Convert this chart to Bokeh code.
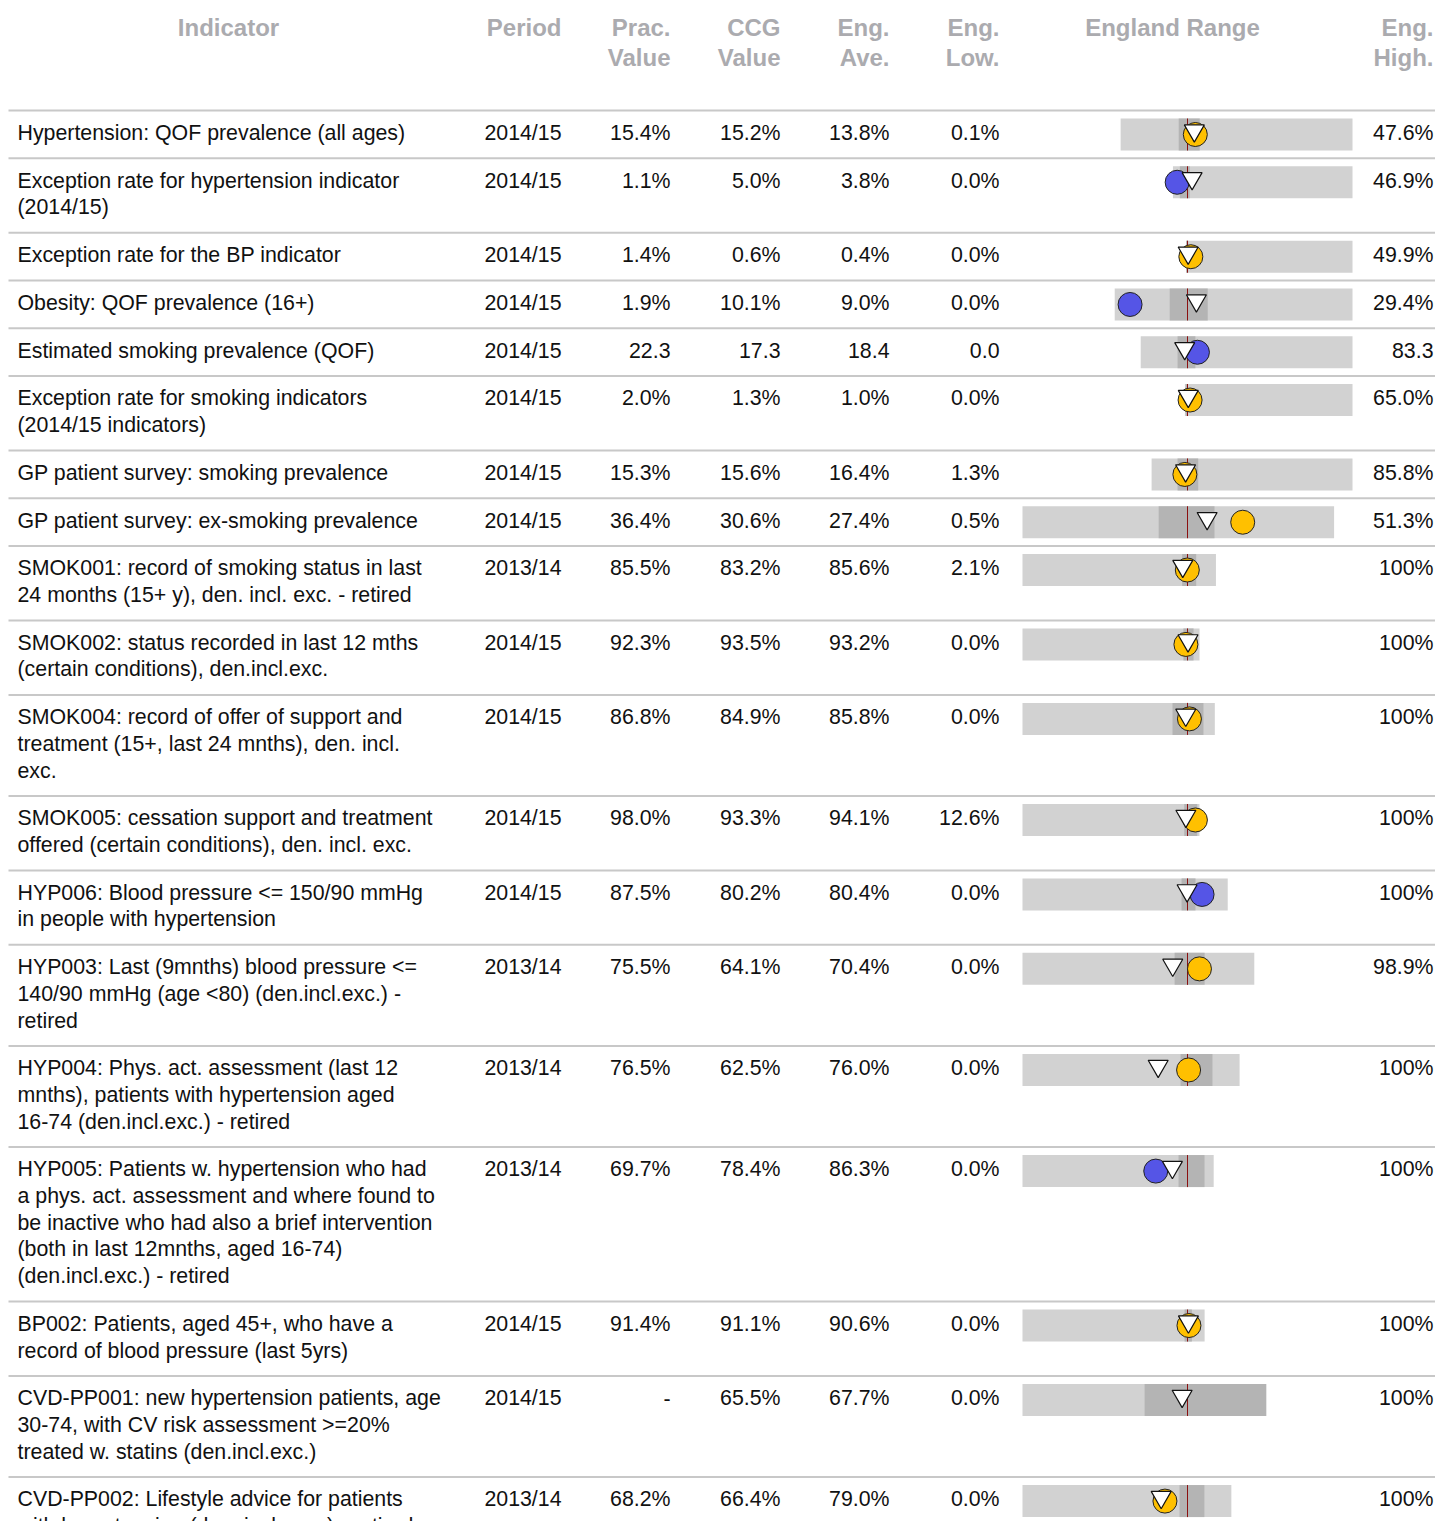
from bokeh.plotting import figure
from bokeh.models import Range1d
from bokeh.embed import file_html
from bokeh.resources import INLINE
from bokeh.core.properties import value

# ---------------- data ----------------
indicators = [
    "Hypertension: QOF prevalence (all ages)",
    "Exception rate for hypertension indicator\n(2014/15)",
    "Exception rate for the BP indicator",
    "Obesity: QOF prevalence (16+)",
    "Estimated smoking prevalence (QOF)",
    "Exception rate for smoking indicators\n(2014/15 indicators)",
    "GP patient survey: smoking prevalence",
    "GP patient survey: ex-smoking prevalence",
    "SMOK001: record of smoking status in last\n24 months (15+ y),  den. incl. exc. - retired",
    "SMOK002: status recorded in last 12 mths\n(certain conditions), den.incl.exc.",
    "SMOK004: record of offer of support and\ntreatment (15+, last 24 mnths),  den. incl.\nexc.",
    "SMOK005: cessation support and treatment\noffered (certain conditions), den. incl. exc.",
    "HYP006: Blood pressure <= 150/90 mmHg\nin people with hypertension",
    "HYP003: Last (9mnths) blood pressure <=\n140/90 mmHg (age <80) (den.incl.exc.) -\nretired",
    "HYP004: Phys. act. assessment (last 12\nmnths), patients with hypertension aged\n16-74 (den.incl.exc.) - retired",
    "HYP005: Patients w. hypertension who had\na phys. act. assessment and where found to\nbe inactive who had also a brief intervention\n(both in last 12mnths, aged 16-74)\n(den.incl.exc.) - retired",
    "BP002: Patients, aged 45+, who have a\nrecord of blood pressure (last 5yrs)",
    "CVD-PP001: new hypertension patients, age\n30-74, with CV risk assessment >=20%\ntreated w. statins (den.incl.exc.)",
    "CVD-PP002: Lifestyle advice for patients\nwith hypertension (den. incl. exc.) - retired",
]
periods = ["2014/15"] * 8 + ["2013/14", "2014/15", "2014/15", "2014/15", "2014/15",
                             "2013/14", "2013/14", "2013/14", "2014/15", "2014/15", "2013/14"]
units = ["%", "%", "%", "%", "", "%", "%", "%", "%", "%", "%", "%", "%", "%", "%", "%", "%", "%", "%"]
prac_value = [15.4, 1.1, 1.4, 1.9, 22.3, 2.0, 15.3, 36.4, 85.5, 92.3, 86.8, 98.0, 87.5, 75.5, 76.5, 69.7, 91.4, None, 68.2]
ccg_value = [15.2, 5.0, 0.6, 10.1, 17.3, 1.3, 15.6, 30.6, 83.2, 93.5, 84.9, 93.3, 80.2, 64.1, 62.5, 78.4, 91.1, 65.5, 66.4]
eng_avg = [13.8, 3.8, 0.4, 9.0, 18.4, 1.0, 16.4, 27.4, 85.6, 93.2, 85.8, 94.1, 80.4, 70.4, 76.0, 86.3, 90.6, 67.7, 79.0]
eng_low = [0.1, 0.0, 0.0, 0.0, 0.0, 0.0, 1.3, 0.5, 2.1, 0.0, 0.0, 12.6, 0.0, 0.0, 0.0, 0.0, 0.0, 0.0, 0.0]
eng_high = [47.6, 46.9, 49.9, 29.4, 83.3, 65.0, 85.8, 51.3, 100, 100, 100, 100, 100, 98.9, 100, 100, 100, 100, 100]
eng_q25 = [12.0, 1.8, 0.0, 6.8, 14.5, 0.3, 12.2, 22.7, 82.9, 90.9, 78.0, 92.5, 77.5, 64.9, 72.8, 81.6, 89.0, 50.1, 75.2]
eng_q75 = [16.3, 4.4, 0.6, 11.5, 21.5, 1.2, 20.9, 31.8, 90.0, 96.6, 94.1, 98.9, 84.3, 77.7, 87.5, 95.2, 93.0, 100, 87.1]
prac_compare = ["similar", "lower", "similar", "lower", "higher", "similar", "similar", "similar",
                "similar", "similar", "similar", "similar", "higher", "similar", "similar", "lower",
                "similar", "none", "similar"]

header_cols = [
    ("Indicator", "", "center", 228),
    ("Period", "", "right", 561),
    ("Prac.", "Value", "right", 670),
    ("CCG", "Value", "right", 780),
    ("Eng.", "Ave.", "right", 889),
    ("Eng.", "Low.", "right", 999),
    ("England Range", "", "center", 1172),
    ("Eng.", "High.", "right", 1433),
]

# ---------------- layout / style ----------------
W, H = 1435, 1521
FONT = value("Liberation Sans")
BODY_SIZE = "21.33px"
HEAD_SIZE = "24px"
HEAD_COLOR = "#ABABAF"
TEXT_COLOR = "#111111"
LINE_H = 26.67
ROW_PAD = 21.1
HEADER_BOTTOM = 110
BODY_BASE = 22.3
HEAD_BASE = (26.6, 56.6)
SPINE_C = 1187
SPINE_HALF = 165
COL_X = {"period": 561, "prac": 670, "ccg": 780, "avg": 889, "low": 999, "high": 1433}
SIG_COLORS = {"similar": "#FFC000", "lower": "#5555E6", "higher": "#5555E6"}

p = figure(width=W, height=H, output_backend="svg", toolbar_location=None,
           x_range=Range1d(0, W), y_range=Range1d(H, 0),
           x_axis_type=None, y_axis_type=None, min_border=0)
p.grid.visible = False
p.outline_line_color = None
p.background_fill_color = "white"
p.border_fill_color = "white"

# header
for top, bottom, align, x in header_cols:
    p.text(x=[x], y=[HEAD_BASE[0]], text=[top], text_font=FONT, text_font_size=HEAD_SIZE,
           text_font_style="bold", text_color=HEAD_COLOR, text_align=align,
           text_baseline="alphabetic")
    if bottom:
        p.text(x=[x], y=[HEAD_BASE[1]], text=[bottom], text_font=FONT, text_font_size=HEAD_SIZE,
               text_font_style="bold", text_color=HEAD_COLOR, text_align=align,
               text_baseline="alphabetic")

# rows geometry
nlines = [len(s.split("\n")) for s in indicators]
tops = [HEADER_BOTTOM]
for n in nlines:
    tops.append(tops[-1] + ROW_PAD + LINE_H * n)
row_tops = tops[:-1]

# separator lines
p.segment(x0=[8] * len(tops), x1=[W] * len(tops), y0=tops, y1=tops,
          line_color="#C8C8C8", line_width=2)


def fmt(v, unit):
    if v is None:
        return "-"
    if v == 100:
        return "100" + unit
    return f"{v:.1f}{unit}"


# text columns
tx, ty, tt = [], [], []
for i, name in enumerate(indicators):
    for j, line in enumerate(name.split("\n")):
        tx.append(17)
        ty.append(row_tops[i] + BODY_BASE + j * LINE_H)
        tt.append(line)
p.text(x=tx, y=ty, text=tt, text_font=FONT, text_font_size=BODY_SIZE,
       text_color=TEXT_COLOR, text_align="left", text_baseline="alphabetic")

num_cols = [("period", periods), ("prac", prac_value), ("ccg", ccg_value),
            ("avg", eng_avg), ("low", eng_low), ("high", eng_high)]
for key, vals in num_cols:
    xs, ys, ts = [], [], []
    for i, v in enumerate(vals):
        xs.append(COL_X[key])
        ys.append(row_tops[i] + BODY_BASE)
        ts.append(v if key == "period" else fmt(v, units[i]))
    p.text(x=xs, y=ys, text=ts, text_font=FONT, text_font_size=BODY_SIZE,
           text_color=TEXT_COLOR, text_align="right", text_baseline="alphabetic")


# spine chart
def spos(i, v):
    s = max(eng_avg[i] - eng_low[i], eng_high[i] - eng_avg[i])
    return SPINE_C + (v - eng_avg[i]) / s * SPINE_HALF


n = len(indicators)
bar_top = [t + 8 for t in row_tops]
bar_bot = [t + 40 for t in row_tops]
bar_mid = [t + 24 for t in row_tops]

p.quad(left=[spos(i, eng_low[i]) for i in range(n)],
       right=[spos(i, eng_high[i]) for i in range(n)],
       top=bar_top, bottom=bar_bot, fill_color="#D2D2D2", line_color=None)
p.quad(left=[spos(i, eng_q25[i]) for i in range(n)],
       right=[spos(i, eng_q75[i]) for i in range(n)],
       top=bar_top, bottom=bar_bot, fill_color="#B4B4B4", line_color=None)
p.segment(x0=[spos(i, eng_avg[i]) for i in range(n)],
          x1=[spos(i, eng_avg[i]) for i in range(n)],
          y0=bar_top, y1=bar_bot, line_color="#8B1010", line_width=1)

cx, cy, cc = [], [], []
for i, v in enumerate(prac_value):
    if v is None:
        continue
    cx.append(spos(i, v))
    cy.append(bar_mid[i])
    cc.append(SIG_COLORS[prac_compare[i]])
p.scatter(x=cx, y=cy, marker="circle", size=24, fill_color=cc,
          line_color="#222222", line_width=1)

p.scatter(x=[spos(i, v) for i, v in enumerate(ccg_value)],
          y=[m - 3.9 for m in bar_mid], marker="inverted_triangle", size=20,
          fill_color="white", line_color="#111111", line_width=1.2)

open("out.html", "w").write(file_html(p, INLINE))
